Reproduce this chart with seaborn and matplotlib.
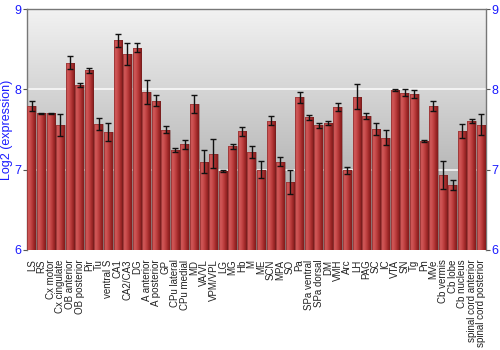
import numpy as np
import pandas as pd
import matplotlib
matplotlib.use("Agg")
import matplotlib.pyplot as plt
import seaborn as sns
from matplotlib.colors import LinearSegmentedColormap

regions = ["LS", "RS", "Cx motor", "Cx cingulate", "OB anterior", "OB posterior", "Pir", "Tu",
           "ventral S", "CA1", "CA2/CA3", "DG", "A anterior", "A posterior", "GP", "CPu lateral",
           "CPu medial", "MD", "VA/VL", "VPM/VPL", "LG", "MG", "Hb", "M", "ME", "SCN", "MPA", "SO",
           "Pa", "SPa ventral", "SPa dorsal", "DM", "VMH", "Arc", "LH", "PAG", "SC", "IC", "VTA",
           "SN", "Tg", "Pn", "MVe", "Cb vermis", "Cb lobe", "Cb nucleus", "spinal cord anterior",
           "spinal cord posterior"]
expression = [7.79, 7.70, 7.70, 7.555, 8.33, 8.05, 8.24, 7.57,
              7.47, 8.61, 8.44, 8.52, 7.97, 7.86, 7.50, 7.245,
              7.315, 7.82, 7.10, 7.20, 6.98, 7.29, 7.48, 7.22, 7.00, 7.61, 7.10, 6.85,
              7.90, 7.65, 7.55, 7.58, 7.78, 6.99, 7.91, 7.67, 7.51, 7.40, 7.99,
              7.96, 7.94, 7.36, 7.79, 6.93, 6.81, 7.48, 7.61,
              7.56]
error = [0.06, 0.005, 0.005, 0.14, 0.08, 0.025, 0.03, 0.075,
         0.11, 0.08, 0.135, 0.06, 0.15, 0.07, 0.045, 0.027,
         0.06, 0.11, 0.14, 0.18, 0.015, 0.03, 0.055, 0.08, 0.11, 0.06, 0.06, 0.15,
         0.065, 0.03, 0.03, 0.02, 0.05, 0.045, 0.16, 0.04, 0.075, 0.095, 0.01,
         0.04, 0.05, 0.012, 0.06, 0.175, 0.06, 0.085, 0.025,
         0.13]
yticks = [6, 7, 8, 9]

df = pd.DataFrame({"region": regions, "expression": expression, "error": error})

sns.set_theme(style="white")
plt.rcParams["font.family"] = ["Liberation Sans", "DejaVu Sans"]

fig = plt.figure(figsize=(5, 3.5), dpi=100)
ax = fig.add_axes([0.054, 0.286, 0.918, 0.688])

sns.barplot(data=df, x="region", y="expression", ax=ax, color="#b03030",
            width=0.9, errorbar=None, zorder=3)
ax.set_ylim(6, 9)
ax.set_xlim(-0.5, len(regions) - 0.5)

# background vertical gradient
bg = LinearSegmentedColormap.from_list("bg", ["#9c9c9c", "#f2f2f2"])
grad = np.linspace(0, 1, 256).reshape(-1, 1)
ax.imshow(grad, cmap=bg, aspect="auto", extent=[0, 1, 0, 1], origin="lower",
          transform=ax.transAxes, zorder=0)

# horizontal gradient on bars
barcmap = LinearSegmentedColormap.from_list(
    "bar", ["#c04848", "#d05858", "#c64a4a", "#b53838", "#9a2626", "#821c1c"])
hgrad = np.linspace(0, 1, 64).reshape(1, -1)
for p in ax.patches:
    x0, w = p.get_x(), p.get_width()
    h = p.get_height()
    im = ax.imshow(hgrad, cmap=barcmap, aspect="auto",
                   extent=[x0, x0 + w, 6, p.get_y() + h], zorder=3)
    im.set_clip_path(p)
    p.set_facecolor("none")
    p.set_edgecolor((0.4, 0.12, 0.12, 0.45))
    p.set_linewidth(0.6)
    p.set_zorder(4)

centers = [p.get_x() + p.get_width() / 2 for p in ax.patches]
ax.errorbar(centers, df["expression"], yerr=df["error"], fmt="none",
            ecolor="#111111", elinewidth=1.0, capsize=2.5, capthick=1.0, zorder=5)

for yv in (7, 8):
    ax.axhline(yv, color="white", lw=1.2, alpha=0.85, zorder=2)

ax.set_yticks(yticks)
ax.tick_params(axis="y", which="both", left=True, right=True, labelleft=True,
               labelright=True, labelcolor="#1a1aff", labelsize=9, length=3,
               width=0.8, color="#555555", pad=1)
ax.tick_params(axis="x", bottom=False, labelsize=7, pad=1, labelcolor="#222222")
ax.set_xticks(range(len(regions)))
ax.set_xticklabels(regions, rotation=90)
ax.set_xlabel("")
ax.set_ylabel("Log2 (expression)", color="#1a1aff", fontsize=9, labelpad=1)

for s in ["left", "right", "top"]:
    ax.spines[s].set_visible(True)
    ax.spines[s].set_color("#777777")
    ax.spines[s].set_linewidth(1.0)
ax.spines["bottom"].set_visible(False)

fig.savefig("out.png", dpi=100)
